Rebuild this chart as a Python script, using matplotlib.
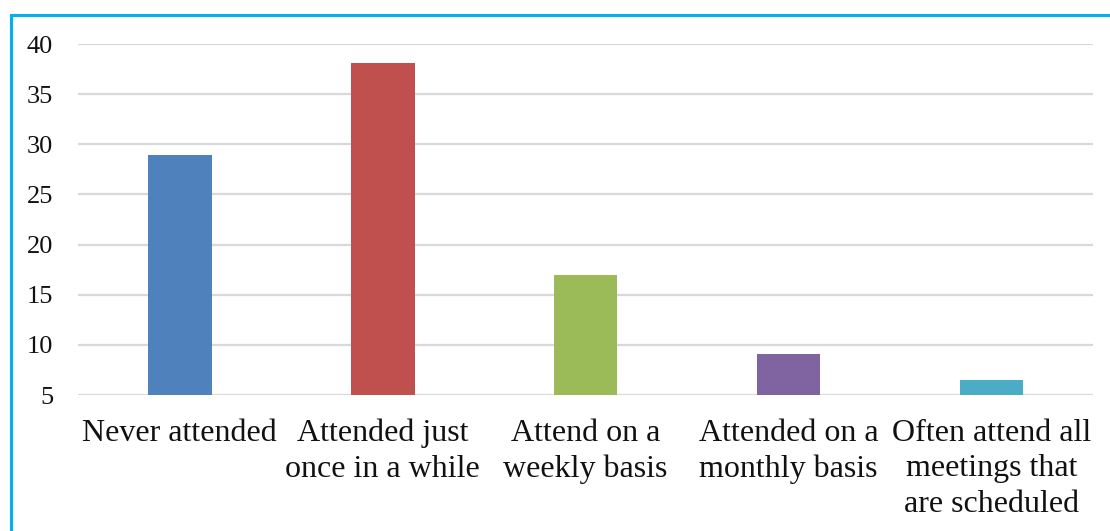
import matplotlib.pyplot as plt
from matplotlib.patches import Rectangle

categories = ['Never attended', 'Attended just\nonce in a while', 'Attend on a\nweekly basis',
              'Attended on a\nmonthly basis', 'Often attend all\nmeetings that\nare scheduled']
values = [28.9, 38.15, 17.0, 9.1, 6.55]
colors = ['#4F81BD', '#C0504D', '#9BBB59', '#8064A2', '#4BACC6']
yticks = [5, 10, 15, 20, 25, 30, 35, 40]

plt.rcParams['font.family'] = ['Liberation Serif', 'DejaVu Serif']

fig = plt.figure(figsize=(11.1, 5.31), dpi=100)
ax = fig.add_axes([0.0703, 0.256, 0.9144, 0.661])

x = range(len(categories))
ax.bar(x, values, width=0.315, color=colors, zorder=3)

ax.set_xlim(-0.5, len(categories) - 0.5)
ax.set_ylim(5, 40)
ax.set_yticks(yticks)
ax.set_xticks(list(x))
ax.set_xticklabels(categories, fontsize=23, color='#111111', linespacing=1.3)
ax.tick_params(axis='y', labelsize=19, length=0, pad=18, colors='#111111')
ax.tick_params(axis='x', length=0, pad=17)
ax.grid(axis='y', color='#D9D9D9', linewidth=1.6, zorder=0)
for side in ax.spines.values():
    side.set_visible(False)

# chart frame, running off the right and bottom edges
fig.patches.append(Rectangle((11 / 1110, -0.1), 1.2, 1 - 15 / 531 + 0.1,
                             transform=fig.transFigure, fill=False,
                             edgecolor='#00B0F0', linewidth=2.2))

fig.savefig('out.png', dpi=100)
